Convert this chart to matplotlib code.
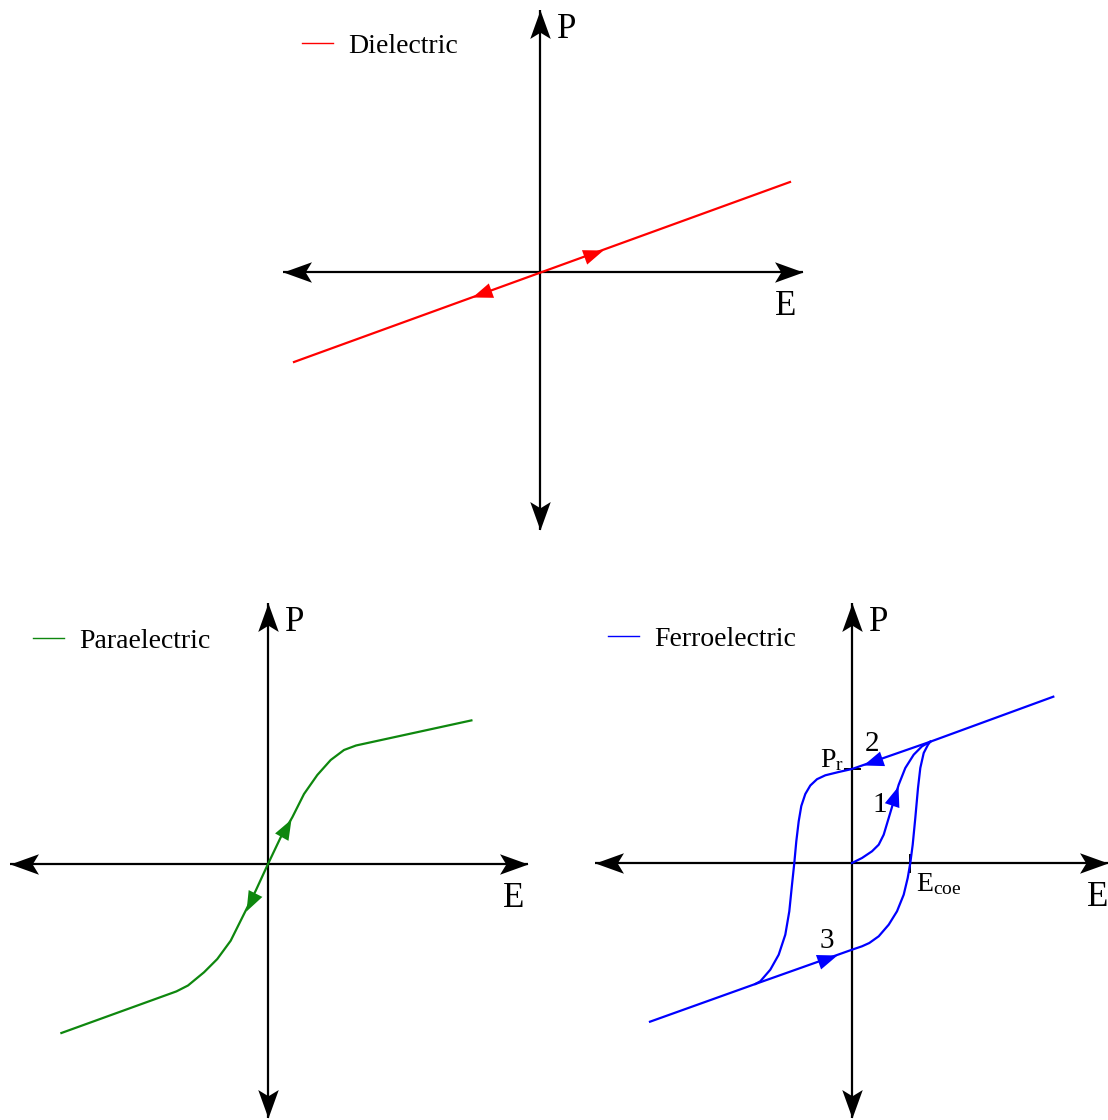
import numpy as np
import matplotlib
matplotlib.use("Agg")
import matplotlib.pyplot as plt
from matplotlib.path import Path
from matplotlib.markers import MarkerStyle
from matplotlib.transforms import Affine2D

plt.rcParams["font.family"] = ["Liberation Serif", "DejaVu Serif"]
plt.rcParams["mathtext.fontset"] = "custom"
plt.rcParams["mathtext.rm"] = "Liberation Serif"
plt.rcParams["mathtext.it"] = "Liberation Serif:italic"

# ---------------------------------------------------------------- data
# Dielectric: linear P(E)
diel_E = [-2.46, 2.50]
diel_P = [-0.90, 0.90]
diel_arrow_E = [0.63, -0.68]
diel_arrow_dir = [1, -1]

# Paraelectric: non-linear, single-valued P(E)
para_E = [-2.066, -0.916, -0.80, -0.64, -0.507, -0.373, -0.24, -0.123,
          0.0, 0.127, 0.243, 0.36, 0.493, 0.627, 0.76, 0.88, 2.034]
para_P = [-1.69, -1.274, -1.215, -1.083, -0.95, -0.767, -0.5, -0.267,
          0.0, 0.267, 0.467, 0.7, 0.89, 1.04, 1.14, 1.185, 1.436]
para_arrow_E = [0.233, -0.223]
para_arrow_dir = [1, -1]

# Ferroelectric hysteresis loop
# upper branch, swept from +E_max down to the lower saturation line
fe_up_E = [2.013, 0.783, 0.0, -0.133, -0.267, -0.35, -0.417, -0.467, -0.507,
           -0.533, -0.557, -0.577, -0.6, -0.627, -0.667, -0.733, -0.817,
           -0.917, -0.967]
fe_up_P = [1.663, 1.213, 0.94, 0.91, 0.877, 0.838, 0.775, 0.69, 0.57,
           0.417, 0.217, 0.0, -0.217, -0.483, -0.717, -0.917, -1.067,
           -1.183, -1.21]
# lower branch, swept from -E_max up to the tip of the loop
fe_low_E = [-2.02, -0.967, 0.0, 0.1, 0.173, 0.267, 0.367, 0.45, 0.517, 0.557,
            0.583, 0.607, 0.633, 0.66, 0.683, 0.717, 0.76, 0.783]
fe_low_P = [-1.587, -1.21, -0.867, -0.833, -0.8, -0.733, -0.617, -0.483,
            -0.317, -0.15, 0.0, 0.183, 0.45, 0.75, 0.95, 1.1, 1.183, 1.213]
# initial (virgin) polarisation curve
fe_init_E = [0.0, 0.1, 0.2, 0.267, 0.317, 0.367, 0.417, 0.467, 0.533, 0.617,
             0.7, 0.783]
fe_init_P = [0.0, 0.05, 0.117, 0.183, 0.283, 0.45, 0.617, 0.783, 0.95, 1.083,
             1.167, 1.213]
fe_arrow_E = {"init": 0.462, "up": 0.107, "low": -0.15}
E_coe = 0.578
P_r = 0.94
step_labels = ["1", "2", "3"]

# ---------------------------------------------------------------- figure
W, H, DPI = 1108, 1120, 100
UNIT = 100.0  # pixels per unit of E and P (equal on both axes)
fig = plt.figure(figsize=(W / DPI, H / DPI), dpi=DPI)

AX_LW = 1.6
CURVE_LW = 1.6
RED, GREEN, BLUE = "#ff0000", "#0e870e", "#0000ff"


def panel(ox, oy):
    """Full-figure axes whose origin lies at pixel (ox, oy) from top-left."""
    ax = fig.add_axes([0, 0, 1, 1])
    ax.set_xlim(-ox / UNIT, (W - ox) / UNIT)
    ax.set_ylim((oy - H) / UNIT, oy / UNIT)
    ax.axis("off")
    ax.patch.set_alpha(0)
    return ax


def stealth_head(angle):
    verts = [(0, 0), (-1, 0.36), (-0.78, 0), (-1, -0.36), (0, 0)]
    codes = [Path.MOVETO, Path.LINETO, Path.LINETO, Path.LINETO, Path.CLOSEPOLY]
    return MarkerStyle(Path(verts, codes), transform=Affine2D().rotate_deg(angle))


def tri_head(angle):
    verts = [(0, 0), (-1, 0.38), (-1, -0.38), (0, 0)]
    codes = [Path.MOVETO, Path.LINETO, Path.LINETO, Path.CLOSEPOLY]
    return MarkerStyle(Path(verts, codes), transform=Affine2D().rotate_deg(angle))


def draw_axes(ax, e_lo, e_hi, p_lo, p_hi):
    ax.plot([e_lo, e_hi], [0, 0], color="black", lw=AX_LW, solid_capstyle="butt", zorder=2)
    ax.plot([0, 0], [p_lo, p_hi], color="black", lw=AX_LW, solid_capstyle="butt", zorder=2)
    for x, y, ang in [(e_hi, 0, 0), (e_lo, 0, 180), (0, p_hi, 90), (0, p_lo, -90)]:
        ax.plot([x], [y], linestyle="none", marker=stealth_head(ang), ms=41,
                mfc="black", mec="black", mew=0, clip_on=False, zorder=3)
    ax.text(0.165, p_hi - 0.28, "P", fontsize=25, ha="left", va="baseline")
    ax.text(2.35, -0.43, "E", fontsize=25, ha="left", va="baseline")


def curve_arrow(ax, E, P, e, sign, color):
    E = np.asarray(E, float)
    P = np.asarray(P, float)
    if E[0] > E[-1]:
        E, P = E[::-1], P[::-1]
    p = np.interp(e, E, P)
    eps = 0.03
    dp = np.interp(e + sign * eps, E, P) - np.interp(e - sign * eps, E, P)
    ang = np.degrees(np.arctan2(dp, 2 * sign * eps))
    ax.plot([e], [p], linestyle="none", marker=tri_head(ang), ms=29,
            mfc=color, mec=color, mew=0, zorder=5)


def add_legend(ax, x_px, y_px):
    leg = ax.legend(loc="center left", bbox_to_anchor=(x_px / W, 1 - y_px / H),
                    bbox_transform=fig.transFigure, frameon=False, fontsize=20,
                    handlelength=1.1, handletextpad=0.55, borderpad=0,
                    borderaxespad=0)
    for ln in leg.get_lines():
        ln.set_linewidth(1.0)


# ---------------------------------------------------------------- dielectric
ax1 = panel(540, 272)
draw_axes(ax1, -2.57, 2.63, -2.58, 2.62)
ax1.plot(diel_E, diel_P, color=RED, lw=CURVE_LW, label="Dielectric", zorder=4)
for e, s in zip(diel_arrow_E, diel_arrow_dir):
    curve_arrow(ax1, diel_E, diel_P, e, s, RED)
add_legend(ax1, 302, 46)

# ---------------------------------------------------------------- paraelectric
ax2 = panel(268, 864)
draw_axes(ax2, -2.58, 2.60, -2.54, 2.61)
ax2.plot(para_E, para_P, color=GREEN, lw=CURVE_LW, label="Paraelectric",
         solid_joinstyle="round", zorder=4)
for e, s in zip(para_arrow_E, para_arrow_dir):
    curve_arrow(ax2, para_E, para_P, e, s, GREEN)
add_legend(ax2, 33, 641)

# ---------------------------------------------------------------- ferroelectric
ax3 = panel(852, 863)
draw_axes(ax3, -2.57, 2.56, -2.55, 2.60)
ax3.plot(fe_up_E, fe_up_P, color=BLUE, lw=CURVE_LW, label="Ferroelectric",
         solid_joinstyle="round", zorder=4)
ax3.plot(fe_low_E, fe_low_P, color=BLUE, lw=CURVE_LW, solid_joinstyle="round", zorder=4)
ax3.plot(fe_init_E, fe_init_P, color=BLUE, lw=CURVE_LW, solid_joinstyle="round", zorder=4)
curve_arrow(ax3, fe_init_E, fe_init_P, fe_arrow_E["init"], 1, BLUE)
curve_arrow(ax3, fe_up_E, fe_up_P, fe_arrow_E["up"], -1, BLUE)
curve_arrow(ax3, fe_low_E, fe_low_P, fe_arrow_E["low"], 1, BLUE)
add_legend(ax3, 608, 639)

# coercive field and remanent polarisation markers
ax3.plot([E_coe, E_coe], [-0.085, 0.085], color="black", lw=1.4, zorder=3)
ax3.plot([-0.07, 0.08], [P_r, P_r], color="black", lw=1.4, zorder=3)
ax3.text(0.64, -0.277, r"$\mathrm{E}_{\mathrm{coe}}$", fontsize=20, ha="left", va="baseline")
ax3.text(-0.325, 0.963, r"$\mathrm{P}_{\mathrm{r}}$", fontsize=20, ha="left", va="baseline")
ax3.text(0.205, 0.513, step_labels[0], fontsize=21, ha="left", va="baseline")
ax3.text(0.13, 1.123, step_labels[1], fontsize=21, ha="left", va="baseline")
ax3.text(-0.32, -0.847, step_labels[2], fontsize=21, ha="left", va="baseline")

fig.savefig("out.png", dpi=DPI)
